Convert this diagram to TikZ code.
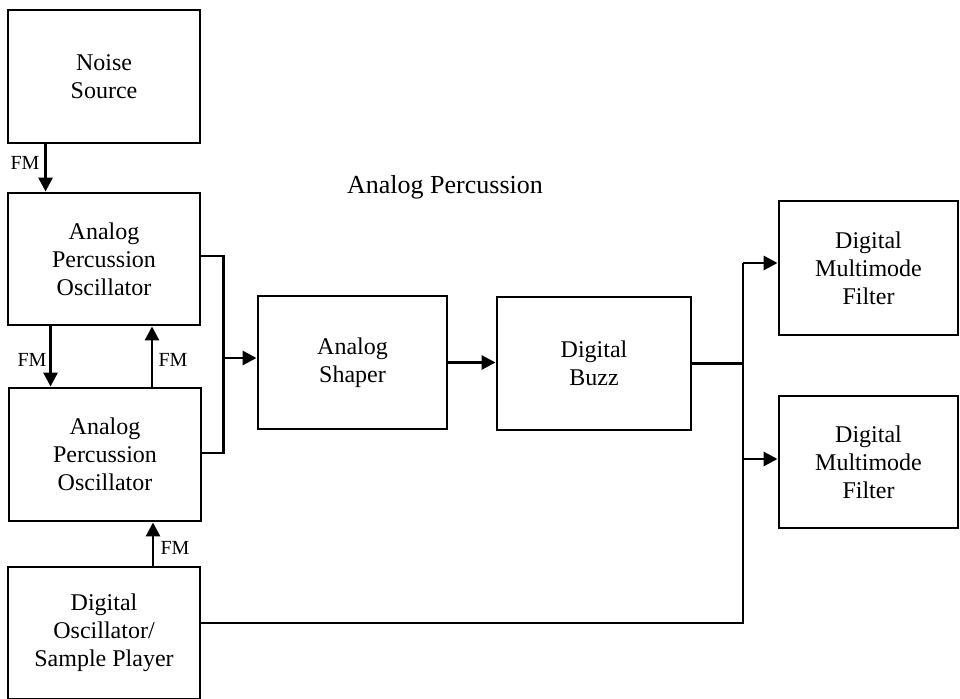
\documentclass[tikz,border=0pt]{standalone}
\usepackage{fontspec}
\setmainfont{Liberation Serif}
\usetikzlibrary{arrows.meta,calc}
\begin{document}
\begin{tikzpicture}[x=1pt,y=-1pt,
  blk/.style={draw, line width=2.9pt, align=center, font=\fontsize{24}{28}\selectfont, inner sep=0pt},
  wire/.style={line width=2.9pt},
  arr/.style={wire, -{Triangle[length=14pt,width=14pt]}},
  lab/.style={font=\fontsize{20}{22}\selectfont, inner sep=0pt}]
\useasboundingbox (0,0) rectangle (960,698);
\node[blk, minimum width=192pt, minimum height=133pt] (noise) at (104,76.5) {Noise\\Source};
\node[blk, minimum width=192pt, minimum height=132pt] (apo1) at (104,259) {Analog\\Percussion\\Oscillator};
\node[blk, minimum width=192pt, minimum height=133pt] (apo2) at (105,454.5) {Analog\\Percussion\\Oscillator};
\node[blk, minimum width=192pt, minimum height=132pt] (dosc) at (104,633) {Digital\\Oscillator/\\Sample Player};
\node[blk, minimum width=189pt, minimum height=133pt] (shaper) at (352.5,362.5) {Analog\\Shaper};
\node[blk, minimum width=194pt, minimum height=133pt] (buzz) at (594,363.5) {Digital\\Buzz};
\node[blk, minimum width=179pt, minimum height=134pt] (filt1) at (868.5,268) {Digital\\Multimode\\Filter};
\node[blk, minimum width=179pt, minimum height=132pt] (filt2) at (868.5,462) {Digital\\Multimode\\Filter};
\node[font=\fontsize{26}{30}\selectfont, anchor=base, inner sep=0pt] (title) at (445,193) {Analog Percussion};

% FM connections
\draw[arr] ([xshift=39pt]noise.south west) -- ([xshift=39pt]apo1.north west);
\node[lab] (fm1) at (25,163) {FM};
\draw[arr] ([xshift=44pt]apo1.south west) -- ([xshift=43pt]apo2.north west);
\node[lab] (fm2) at (32,360) {FM};
\draw[arr] ([xshift=47pt]apo2.north) -- ([xshift=48pt]apo1.south);
\node[lab] (fm3) at (173,360) {FM};
\draw[arr] ([xshift=49pt]dosc.north) -- ([xshift=48pt]apo2.south);
\node[lab] (fm4) at (175,548) {FM};

% bracket to shaper
\draw[wire] ([yshift=3pt]apo1.east) -- ++(22,0) coordinate (b1) |- ([yshift=1.5pt]apo2.east);
\draw[arr] (b1 |- 0,358) coordinate (b2) -- (b2 -| shaper.west);
\draw[arr] (shaper.east) -- (shaper.east -| buzz.west);

% split to filters
\coordinate (j) at (743,360);
\draw[wire] (buzz.east) -- (buzz.east -| j);
\draw[wire] ([yshift=10pt]dosc.east) coordinate (d1) -- (d1 -| j) coordinate (j2) -- (j2 |- 0,263) coordinate (j1);
\draw[arr] (j1) -- (j1 -| filt1.west);
\draw[arr] (j |- 0,459) coordinate (j3) -- (j3 -| filt2.west);
\end{tikzpicture}
\end{document}
